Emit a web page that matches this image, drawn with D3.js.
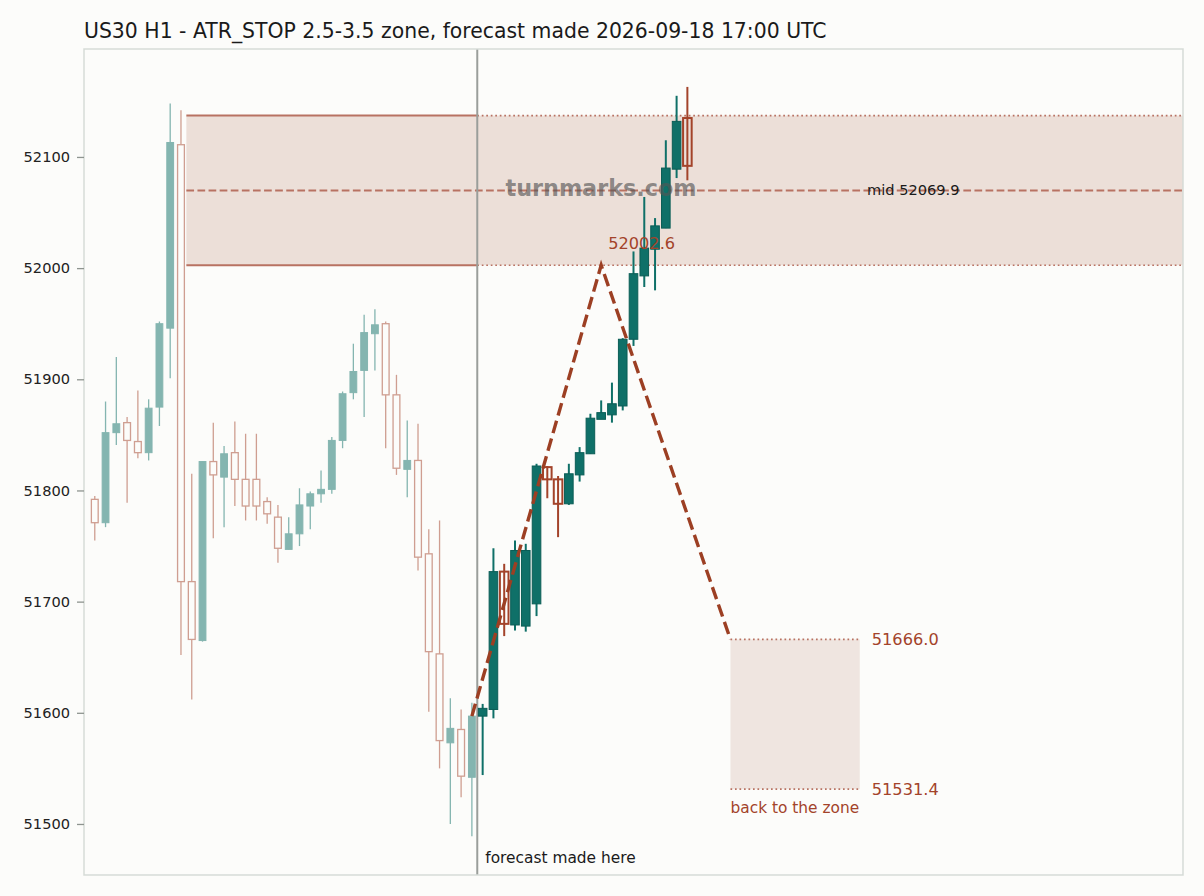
<!DOCTYPE html>
<html lang="en">
<head>
    <meta charset="UTF-8">
    <script src="https://d3js.org/d3.v7.min.js"></script>
    <title>US30 H1 forecast</title>
    <style>
        body { margin: 0; background: #fcfcfa; }
        text { font-family: "DejaVu Sans", sans-serif; }
    </style>
</head>
<body>
    <div id="chart"></div>
    <script>
        // history candles (index 0..35), faded
        const histOpen  = [51792, 51771, 51852, 51861, 51844, 51834, 51875, 51946, 52111, 51718, 51665, 51826, 51812, 51834, 51810, 51810, 51790, 51776, 51747, 51761, 51786, 51797, 51801, 51845, 51888, 51908, 51941, 51950, 51886, 51819, 51827, 51743, 51653, 51573, 51585, 51542];
        const histHigh  = [51795, 51880, 51920, 51866, 51890, 51882, 51952, 52148, 52142, 51815, 51826, 51861, 51840, 51862, 51851, 51851, 51794, 51787, 51776, 51802, 51799, 51818, 51848, 51889, 51932, 51958, 51963, 51952, 51904, 51863, 51860, 51765, 51773, 51613, 51603, 51609];
        const histLow   = [51755, 51767, 51841, 51789, 51829, 51827, 51858, 51901, 51652, 51612, 51664, 51757, 51767, 51786, 51773, 51773, 51770, 51735, 51747, 51750, 51765, 51789, 51797, 51838, 51882, 51866, 51908, 51838, 51814, 51794, 51728, 51601, 51550, 51500, 51524, 51489];
        const histClose = [51771, 51852, 51860, 51845, 51834, 51874, 51950, 52113, 51718, 51666, 51826, 51814, 51833, 51810, 51786, 51786, 51779, 51748, 51761, 51787, 51797, 51801, 51845, 51887, 51907, 51942, 51949, 51886, 51820, 51827, 51740, 51655, 51575, 51586, 51543, 51597];

        // forecast-period candles (index 36..55)
        const fcOpen  = [51597, 51603, 51727, 51679, 51678, 51698, 51821, 51810, 51788, 51814, 51833, 51864, 51868, 51876, 51936, 51993, 52017, 52036, 52089, 52135];
        const fcHigh  = [51608, 51748, 51734, 51755, 51752, 51824, 51822, 51813, 51824, 51839, 51869, 51881, 51897, 51937, 52015, 52064, 52045, 52115, 52155, 52163];
        const fcLow   = [51544, 51595, 51669, 51674, 51673, 51687, 51793, 51758, 51787, 51808, 51833, 51865, 51861, 51872, 51930, 51983, 51980, 52036, 52081, 52079];
        const fcClose = [51604, 51727, 51680, 51746, 51746, 51822, 51810, 51788, 51815, 51834, 51865, 51870, 51878, 51936, 51995, 52018, 52038, 52090, 52132, 52092];

        // zone and forecast path
        const zoneTop = 52137.2, zoneBottom = 52002.6, zoneMid = 52069.9;
        const zoneStart = 8.5, forecastAt = 35.5;
        const pathIdx = [35, 47, 59];
        const pathVal = [51597, 52002.6, 51666.0];
        const targetHigh = 51666.0, targetLow = 51531.4, targetStart = 59, targetEnd = 71;
        const yTicks = [51500, 51600, 51700, 51800, 51900, 52000, 52100];

        const W = 1204, H = 896;
        const m = { left: 84, right: 1183, top: 49, bottom: 875 };

        const svg = d3.select("#chart").append("svg")
            .attr("width", W).attr("height", H);
        svg.append("rect").attr("width", W).attr("height", H).attr("fill", "#fcfcfa");

        const x = d3.scaleLinear().domain([-1, 101]).range([m.left, m.right]);
        const y = d3.scaleLinear().domain([51454.1, 52197.1]).range([m.bottom, m.top]);

        const red = "#a3432a", teal = "#0f7068", zoneLine = "#b87262";

        const hist = histOpen.map((o, i) => ({ i, o, h: histHigh[i], l: histLow[i], c: histClose[i] }));
        const fc = fcOpen.map((o, i) => ({ i: i + 36, o, h: fcHigh[i], l: fcLow[i], c: fcClose[i] }));

        const plot = svg.append("g");

        // zone band
        plot.append("rect")
            .attr("x", x(zoneStart)).attr("width", x(101) - x(zoneStart))
            .attr("y", y(zoneTop)).attr("height", y(zoneBottom) - y(zoneTop))
            .attr("fill", "#ecdfd8");
        // target box
        plot.append("rect")
            .attr("x", x(targetStart)).attr("width", x(targetEnd) - x(targetStart))
            .attr("y", y(targetHigh)).attr("height", y(targetLow) - y(targetHigh))
            .attr("fill", "#efe5e0");

        // zone edges: solid over history, dotted over forecast
        [zoneTop, zoneBottom].forEach(v => {
            plot.append("line")
                .attr("x1", x(zoneStart)).attr("x2", x(forecastAt))
                .attr("y1", y(v)).attr("y2", y(v))
                .attr("stroke", zoneLine).attr("stroke-width", 2);
            plot.append("line")
                .attr("x1", x(forecastAt)).attr("x2", x(101))
                .attr("y1", y(v)).attr("y2", y(v))
                .attr("stroke", zoneLine).attr("stroke-width", 1.7)
                .attr("stroke-dasharray", "1.7,2.8");
        });
        plot.append("line")
            .attr("x1", x(zoneStart)).attr("x2", x(101))
            .attr("y1", y(zoneMid)).attr("y2", y(zoneMid))
            .attr("stroke", zoneLine).attr("stroke-width", 2)
            .attr("stroke-dasharray", "7.7,3.4");
        [targetHigh, targetLow].forEach(v => {
            plot.append("line")
                .attr("x1", x(targetStart)).attr("x2", x(targetEnd))
                .attr("y1", y(v)).attr("y2", y(v))
                .attr("stroke", zoneLine).attr("stroke-width", 1.7)
                .attr("stroke-dasharray", "1.7,2.8");
        });

        function drawCandles(data, bodyW, faded) {
            const g = plot.append("g").attr("opacity", faded ? 0.5 : 1);
            g.selectAll("line").data(data).join("line")
                .attr("x1", d => x(d.i)).attr("x2", d => x(d.i))
                .attr("y1", d => y(d.h)).attr("y2", d => y(d.l))
                .attr("stroke", d => d.c >= d.o ? teal : red)
                .attr("stroke-width", faded ? 1.3 : 2);
            g.selectAll("rect").data(data).join("rect")
                .attr("x", d => x(d.i) - bodyW / 2)
                .attr("width", bodyW)
                .attr("y", d => y(Math.max(d.o, d.c)))
                .attr("height", d => Math.max(1, Math.abs(y(d.o) - y(d.c))))
                .attr("fill", d => d.c >= d.o ? teal : (faded ? "#fcfcfa" : "none"))
                .attr("stroke", d => d.c >= d.o ? (faded ? teal : "#0b5d56") : red)
                .attr("stroke-width", d => d.c >= d.o ? 1 : (faded ? 1.3 : 2));
        }
        drawCandles(hist, 6.8, true);

        // forecast marker
        plot.append("line")
            .attr("x1", x(forecastAt)).attr("x2", x(forecastAt))
            .attr("y1", m.top).attr("y2", m.bottom)
            .attr("stroke", "#9a9e9a").attr("stroke-width", 2);

        drawCandles(fc, 8.6, false);

        // forecast path
        plot.append("path")
            .datum(pathIdx.map((d, k) => [d, pathVal[k]]))
            .attr("d", d3.line().x(d => x(d[0])).y(d => y(d[1])))
            .attr("fill", "none").attr("stroke", "#9c3f23")
            .attr("stroke-width", 3.4).attr("stroke-dasharray", "12.8,5.6");

        // frame
        svg.append("rect")
            .attr("x", m.left).attr("y", m.top)
            .attr("width", m.right - m.left).attr("height", m.bottom - m.top)
            .attr("fill", "none").attr("stroke", "#d6dbd7").attr("stroke-width", 1.5);

        // y axis
        const yAxis = svg.append("g")
            .attr("transform", `translate(${m.left},0)`)
            .call(d3.axisLeft(y).tickValues(yTicks).tickSize(7).tickPadding(7).tickFormat(d3.format("d")));
        yAxis.select(".domain").remove();
        yAxis.selectAll(".tick line").attr("stroke", "#8e948f").attr("stroke-width", 1.3);
        yAxis.selectAll(".tick text").attr("fill", "#222").style("font-size", "14.6px")
            .style("font-family", "DejaVu Sans, sans-serif");

        // labels
        svg.append("text").attr("x", 84).attr("y", 38)
            .attr("fill", "#1a1a1a").style("font-size", "20.4px")
            .text("US30 H1 - ATR_STOP 2.5-3.5 zone, forecast made 2026-09-18 17:00 UTC");

        svg.append("text").attr("x", x(47) + 7).attr("y", y(zoneBottom) - 16)
            .attr("fill", red).style("font-size", "16.2px").text("52002.6");
        svg.append("text").attr("x", x(targetEnd) + 12).attr("y", y(targetHigh) + 6)
            .attr("fill", red).style("font-size", "16.2px").text("51666.0");
        svg.append("text").attr("x", x(targetEnd) + 12).attr("y", y(targetLow) + 6)
            .attr("fill", red).style("font-size", "16.2px").text("51531.4");
        svg.append("text").attr("x", x(targetStart)).attr("y", y(targetLow) + 24)
            .attr("fill", red).style("font-size", "15.4px").text("back to the zone");
        svg.append("text").attr("x", 867).attr("y", y(zoneMid) + 5)
            .attr("fill", "#1a1a1a").style("font-size", "14.6px").text("mid 52069.9");
        svg.append("text").attr("x", x(forecastAt) + 8).attr("y", 863)
            .attr("fill", "#1a1a1a").style("font-size", "15.4px").text("forecast made here");

        // watermark
        svg.append("text").attr("x", 601).attr("y", 196)
            .attr("text-anchor", "middle")
            .attr("fill", "#555").attr("fill-opacity", 0.65)
            .style("font-size", "22.3px").style("font-weight", "bold")
            .text("turnmarks.com");
    </script>
</body>
</html>
